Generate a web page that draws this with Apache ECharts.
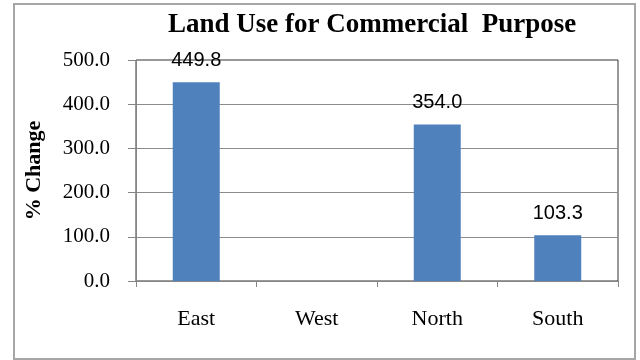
<!DOCTYPE html>
<html>
<head>
<meta charset="utf-8">
<script src="https://cdn.jsdelivr.net/npm/echarts@6/dist/echarts.min.js"></script>
<style>
  html, body { margin: 0; padding: 0; background: #fff; }
  #root { width: 640px; height: 360px; }
</style>
</head>
<body>
<div id="root"></div>
<script>
const regions = ['East', 'West', 'North', 'South'];
const changes = [449.8, null, 354.0, 103.3];
const Y_MIN = 0;
const Y_MAX = 500;
const Y_STEP = 100;

const serif = '"Liberation Serif", "Times New Roman", serif';
const sans = '"Liberation Sans", Arial, sans-serif';

const myChart = echarts.init(document.getElementById('root'));

const option = {
  backgroundColor: '#fff',
  animation: false,
  title: {
    text: 'Land Use for Commercial  Purpose',
    left: 163,
    top: 7,
    textStyle: {
      fontFamily: serif,
      fontWeight: 'bold',
      fontSize: 27,
      color: '#000'
    }
  },
  graphic: [{
    type: 'rect',
    shape: { x: 14, y: 4, width: 621, height: 355 },
    style: { fill: 'none', stroke: '#a6a6a6', lineWidth: 2 },
    silent: true
  }],
  grid: {
    left: 136,
    right: 22,
    top: 60,
    bottom: 79,
    show: true,
    borderColor: '#333',
    borderWidth: 1
  },
  xAxis: {
    type: 'category',
    data: regions,
    axisLine: { lineStyle: { color: '#868686', width: 1 } },
    axisTick: { show: true, length: 6, lineStyle: { color: '#868686' } },
    axisLabel: {
      margin: 27,
      fontFamily: serif,
      fontSize: 22,
      color: '#000'
    }
  },
  yAxis: {
    type: 'value',
    min: Y_MIN,
    max: Y_MAX,
    interval: Y_STEP,
    name: '% Change',
    nameLocation: 'middle',
    nameGap: 91,
    nameTextStyle: {
      fontFamily: serif,
      fontWeight: 'bold',
      fontSize: 22,
      color: '#000'
    },
    axisLine: { show: true, lineStyle: { color: '#868686', width: 1 } },
    axisTick: { show: true, length: 8, lineStyle: { color: '#868686' } },
    axisLabel: {
      margin: 26,
      fontFamily: serif,
      fontSize: 21,
      color: '#000',
      formatter: v => v.toFixed(1)
    },
    splitLine: {
      show: true,
      showMaxLine: false,
      lineStyle: { color: '#8c8c8c', width: 1 }
    }
  },
  series: [{
    name: '% Change',
    type: 'bar',
    data: changes,
    barWidth: '39%',
    itemStyle: { color: '#4f81bd' },
    label: {
      show: true,
      position: 'top',
      distance: 12,
      fontFamily: sans,
      fontSize: 20,
      color: '#000',
      formatter: p => (p.value == null ? '' : p.value.toFixed(1))
    }
  }]
};

myChart.setOption(option);

window.onresize = () => myChart.resize();
</script>
</body>
</html>
